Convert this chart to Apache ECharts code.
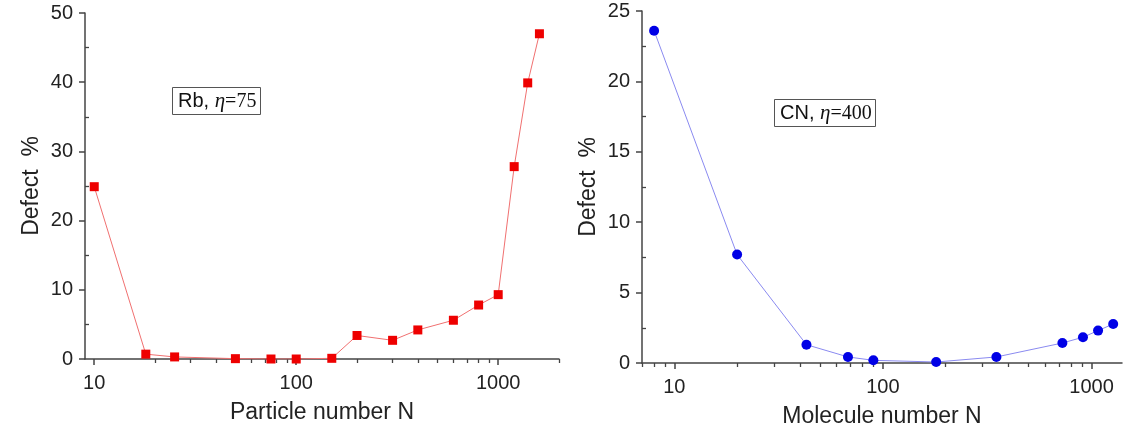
<!DOCTYPE html>
<html>
<head>
<meta charset="utf-8">
<script src="https://cdn.jsdelivr.net/npm/echarts@6/dist/echarts.min.js"></script>
<style>
  html, body { margin: 0; padding: 0; background: #fff; }
  #chart { width: 1139px; height: 436px; }
</style>
</head>
<body>
<div id="chart"></div>
<script>
// Rb panel
const rbN = [10, 18, 25, 50, 75, 100, 150, 200, 300, 400, 600, 800, 1000, 1200, 1400, 1600];
const rbDefect = [24.9, 0.7, 0.3, 0.05, 0, 0, 0.1, 3.4, 2.7, 4.2, 5.6, 7.8, 9.3, 27.8, 39.9, 47.0];
// CN panel
const cnN = [8, 20, 43, 68, 90, 180, 350, 725, 910, 1075, 1270];
const cnDefect = [23.6, 7.7, 1.3, 0.43, 0.19, 0.07, 0.43, 1.42, 1.83, 2.3, 2.77];

const majorTicks = [10, 100, 1000];
const rbMinor = [20, 30, 40, 50, 60, 70, 80, 90, 200, 300, 400, 500, 600, 700, 800, 900, 2000];
const cnMinor = [7, 8, 9, 20, 30, 40, 50, 60, 70, 80, 90, 200, 300, 400, 500, 600, 700, 800, 900];

const font = "'Liberation Sans', Arial, sans-serif";
const serif = "'Liberation Serif', 'Times New Roman', serif";
const axisColor = "#444";

function xAxes(gridIndex, min, max, minor, name) {
  return [
    {
      type: "log", gridIndex, min, max, logBase: 10, position: "bottom",
      name, nameLocation: "middle", nameGap: 42,
      nameTextStyle: { fontFamily: font, fontSize: 23, color: "#222" },
      axisLine: { show: true, lineStyle: { color: axisColor, width: 1.5 } },
      axisTick: { show: true, inside: false, length: 6, customValues: majorTicks, lineStyle: { color: axisColor, width: 1.5 } },
      axisLabel: { customValues: majorTicks, fontFamily: font, fontSize: 20, color: "#222", margin: 14,
        formatter: v => String(Math.round(v)) },
      splitLine: { show: false },
      minorTick: { show: false }
    },
    {
      // minor ticks only
      type: "log", gridIndex, min, max, logBase: 10, position: "bottom",
      axisLine: { show: true, lineStyle: { color: "rgba(0,0,0,0)" } },
      axisTick: { show: true, inside: false, length: 4, customValues: minor, lineStyle: { color: axisColor, width: 1.3 } },
      axisLabel: { show: false },
      splitLine: { show: false }
    }
  ];
}

function yAxis(gridIndex, max, interval) {
  return {
    type: "value", gridIndex, min: 0, max, interval,
    name: "Defect  %", nameLocation: "middle", nameGap: 42,
    nameTextStyle: { fontFamily: font, fontSize: 23, color: "#222" },
    axisLine: { show: true, lineStyle: { color: axisColor, width: 1.5 } },
    axisTick: { show: true, inside: false, length: 6, lineStyle: { color: axisColor, width: 1.5 } },
    minorTick: { show: true, splitNumber: 2, length: -4, lineStyle: { color: axisColor, width: 1.3 } },
    axisLabel: { fontFamily: font, fontSize: 20, color: "#222", margin: 12 },
    splitLine: { show: false }
  };
}

function boxLabel(first, rest, left, top) {
  return {
    text: "{a|" + first + "}{b|η}{c|" + rest + "}",
    left, top,
    borderColor: "#555", borderWidth: 1, padding: [4, 4, 3, 6],
    textStyle: {
      fontWeight: "normal",
      rich: {
        a: { fontFamily: font, fontSize: 20, fontWeight: "normal", color: "#111" },
        b: { fontFamily: serif, fontStyle: "italic", fontSize: 21, fontWeight: "normal", color: "#111" },
        c: { fontFamily: serif, fontSize: 20, fontWeight: "normal", color: "#111" }
      }
    }
  };
}

const chart = echarts.init(document.getElementById("chart"));

const option = {
  backgroundColor: "#fff",
  animation: false,
  title: [
    boxLabel("Rb, ", "=75", 172, 87),
    boxLabel("CN, ", "=400", 774, 99)
  ],
  grid: [
    { left: 85, top: 13, width: 474, height: 346 },
    { left: 642, top: 11, width: 480, height: 352 }
  ],
  xAxis: [
    ...xAxes(0, 9, 2000, rbMinor, "Particle number N"),
    ...xAxes(1, 7, 1400, cnMinor, "Molecule number N")
  ],
  yAxis: [yAxis(0, 50, 10), yAxis(1, 25, 5)],
  series: [
    {
      name: "Rb", type: "line", xAxisIndex: 0, yAxisIndex: 0,
      data: rbN.map((n, i) => [n, rbDefect[i]]),
      symbol: "rect", symbolSize: 9,
      itemStyle: { color: "#ee0000" },
      lineStyle: { color: "#f07070", width: 1 }
    },
    {
      name: "CN", type: "line", xAxisIndex: 2, yAxisIndex: 1,
      data: cnN.map((n, i) => [n, cnDefect[i]]),
      symbol: "circle", symbolSize: 10,
      itemStyle: { color: "#0000e6" },
      lineStyle: { color: "#8a8af0", width: 1 }
    }
  ]
};

chart.setOption(option);
</script>
</body>
</html>
